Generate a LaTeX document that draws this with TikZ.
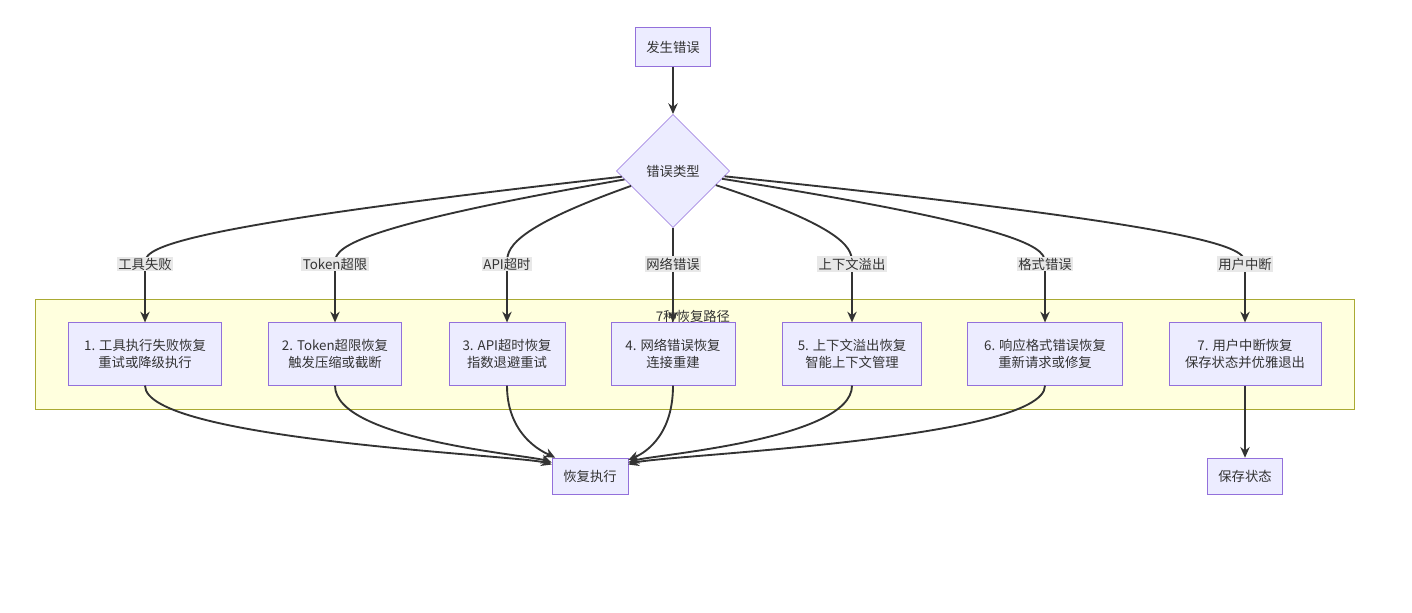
\documentclass[tikz,border=0pt]{standalone}
\usepackage{fontspec}
\setmainfont{Noto Sans CJK SC}
\usetikzlibrary{positioning,shapes.geometric,arrows.meta}
\definecolor{nodefill}{HTML}{ECECFF}
\definecolor{nodeline}{HTML}{9370DB}
\definecolor{edgeline}{HTML}{333333}
\definecolor{grpfill}{HTML}{FFFFDE}
\definecolor{grpline}{HTML}{AAAA33}
\definecolor{lblfill}{HTML}{E8E8E8}
\begin{document}
\begin{tikzpicture}[x=0.75pt,y=-0.75pt,font=\fontsize{10}{13}\selectfont,
		box/.style={draw=nodeline,fill=nodefill,align=center,inner sep=0pt,text=black!80},
		arr/.style={draw=edgeline,line width=1.4pt,-{Stealth[length=8pt,width=7pt]}},
		lbl/.style={fill=lblfill,inner sep=1pt,text=black!80}]
		\useasboundingbox (0,0) rectangle (1412,613);
		\draw [grpline,fill=grpfill] (35,299) rectangle (1354,409);
		\node (grp) [text=black!80] at (693,316) {7种恢复路径};
		\node (err) [box,minimum width=56pt,minimum height=29pt] at (673,47) {发生错误};
		\node (kind) [box,diamond,minimum width=85pt,minimum height=85pt] at (673,171) {错误类型};
		\node (rec) [box,minimum width=57pt,minimum height=27pt] at (590,476) {恢复执行};
		\node (save) [box,minimum width=56pt,minimum height=27pt] at (1245,476) {保存状态};
		\draw [arr] (err) -- (kind);
		% seven recovery routes
		\foreach \i/\x/\w/\lab/\top/\bot in {
			1/145/115/工具失败/1. 工具执行失败恢复/重试或降级执行,
			2/335/100/Token超限/2. Token超限恢复/触发压缩或截断,
			3/507/87/API超时/3. API超时恢复/指数退避重试,
			4/673/93/网络错误/4. 网络错误恢复/连接重建,
			5/852/104/上下文溢出/5. 上下文溢出恢复/智能上下文管理,
			6/1045/116/格式错误/6. 响应格式错误恢复/重新请求或修复,
			7/1245/114/用户中断/7. 用户中断恢复/保存状态并优雅退出}{
			\node (b\i) [box,minimum width=\w pt,minimum height=47pt] at (\x,354) {\top\\\bot};
			\coordinate (l\i) at (\x,264);
			\draw [arr] (kind) .. controls (\x,230) and (\x,250) .. (l\i) -- (b\i);
			\node [lbl] at (l\i) {\lab};
		}
		% into the common recovery step
		\foreach \i/\x/\cx in {1/145/520,2/335/530,3/507/550,4/673/640,5/852/650,6/1045/660}{
			\draw [arr] (b\i.south) .. controls (\x,440) and (\cx,455) .. (rec);
		}
		\draw [arr] (b7) -- (save);
	\end{tikzpicture}
\end{document}
